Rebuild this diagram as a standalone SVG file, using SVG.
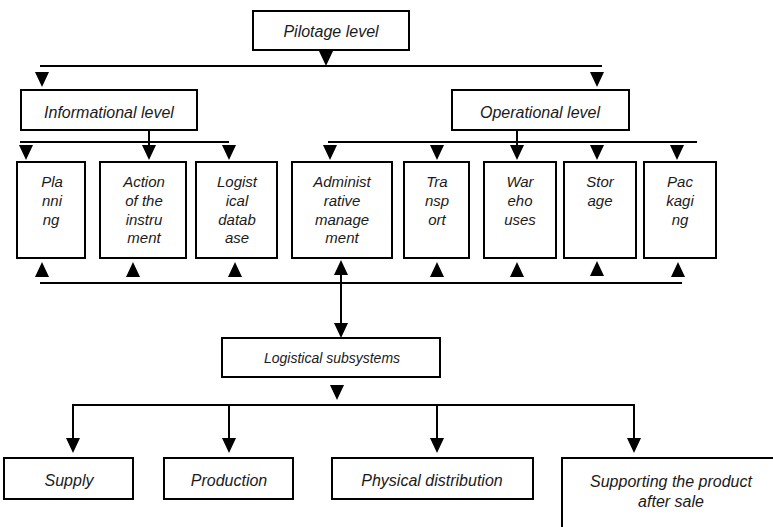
<svg xmlns="http://www.w3.org/2000/svg" xmlns:xlink="http://www.w3.org/1999/xlink" width="773" height="527" viewBox="0 0 773 527">
<style>
.box{fill:#fff;stroke:#000;stroke-width:2}
.ln{stroke:#000;stroke-width:2;fill:none}
.t{font-family:"Liberation Sans",Arial,sans-serif;font-style:italic;fill:#1a1a1a;text-anchor:middle}
.t16{font-size:16px}
.t15{font-size:15px}
.t14{font-size:14px}
</style>
<defs>
<path id="dn" d="M0,0 L-7,-15 L7,-15 Z" fill="#000"/>
<path id="up" d="M0,0 L-7,15 L7,15 Z" fill="#000"/>
</defs>
<rect width="773" height="527" fill="#fff"/>
<g id="connectors">
<line class="ln" x1="40" y1="66" x2="602" y2="66"/>
<use xlink:href="#dn" x="326" y="66"/>
<use xlink:href="#dn" x="42" y="87"/>
<use xlink:href="#dn" x="597" y="87"/>
<line class="ln" x1="20" y1="142" x2="229" y2="142"/>
<line class="ln" x1="149" y1="130" x2="149" y2="146"/>
<use xlink:href="#dn" x="26" y="160"/>
<use xlink:href="#dn" x="149" y="160"/>
<use xlink:href="#dn" x="229" y="160"/>
<line class="ln" x1="328" y1="142" x2="697" y2="142"/>
<line class="ln" x1="517" y1="130" x2="517" y2="146"/>
<use xlink:href="#dn" x="330" y="160"/>
<use xlink:href="#dn" x="437" y="160"/>
<use xlink:href="#dn" x="517" y="160"/>
<use xlink:href="#dn" x="597" y="160"/>
<use xlink:href="#dn" x="677" y="160"/>
<line class="ln" x1="40" y1="283" x2="682" y2="283"/>
<use xlink:href="#up" x="42" y="262"/>
<use xlink:href="#up" x="133" y="262"/>
<use xlink:href="#up" x="235" y="262"/>
<use xlink:href="#up" x="341" y="260"/>
<use xlink:href="#up" x="437" y="262"/>
<use xlink:href="#up" x="517" y="262"/>
<use xlink:href="#up" x="597" y="261"/>
<use xlink:href="#up" x="678" y="262"/>
<line class="ln" x1="341" y1="272" x2="341" y2="326"/>
<use xlink:href="#dn" x="341" y="338"/>
<use xlink:href="#dn" x="337" y="400"/>
<polyline class="ln" points="73,441 73,405 634,405 634,441"/>
<line class="ln" x1="229" y1="405" x2="229" y2="441"/>
<line class="ln" x1="437" y1="405" x2="437" y2="441"/>
<use xlink:href="#dn" x="73" y="453"/>
<use xlink:href="#dn" x="229" y="453"/>
<use xlink:href="#dn" x="437" y="453"/>
<use xlink:href="#dn" x="634" y="453"/>
</g>
<g id="pilotage"><rect class="box" x="253" y="11" width="156" height="39"/><text class="t t16" x="331" y="37">Pilotage level</text></g>
<g id="informational"><rect class="box" x="21" y="90" width="176" height="40"/><text class="t t16" x="109" y="118">Informational level</text></g>
<g id="operational"><rect class="box" x="452" y="90" width="177" height="40"/><text class="t t16" x="540" y="118">Operational level</text></g>
<g id="planning"><rect class="box" x="17" y="162" width="68" height="96"/><text class="t t15" x="52"><tspan x="52" y="187">Pla</tspan><tspan x="52" y="206">nni</tspan><tspan x="51" y="225">ng</tspan></text></g>
<g id="action"><rect class="box" x="100" y="162" width="86" height="96"/><text class="t t15" x="144"><tspan x="144" y="187">Action</tspan><tspan x="144" y="206">of the</tspan><tspan x="144" y="225">instru</tspan><tspan x="144" y="243">ment</tspan></text></g>
<g id="database"><rect class="box" x="196" y="162" width="81" height="96"/><text class="t t15" x="237"><tspan x="237" y="187">Logist</tspan><tspan x="237" y="206">ical</tspan><tspan x="237" y="225">datab</tspan><tspan x="237" y="243">ase</tspan></text></g>
<g id="administrative"><rect class="box" x="292" y="162" width="100" height="96"/><text class="t t15" x="342"><tspan x="342" y="187">Administ</tspan><tspan x="342" y="206">rative</tspan><tspan x="342" y="225">manage</tspan><tspan x="342" y="243">ment</tspan></text></g>
<g id="transport"><rect class="box" x="404" y="162" width="65" height="96"/><text class="t t15" x="437"><tspan x="437" y="187">Tra</tspan><tspan x="437" y="206">nsp</tspan><tspan x="437" y="225">ort</tspan></text></g>
<g id="warehouses"><rect class="box" x="484" y="162" width="72" height="96"/><text class="t t15" x="520"><tspan x="520" y="187">War</tspan><tspan x="520" y="206">eho</tspan><tspan x="520" y="225">uses</tspan></text></g>
<g id="storage"><rect class="box" x="564" y="162" width="72" height="96"/><text class="t t15" x="600"><tspan x="600" y="187">Stor</tspan><tspan x="600" y="206">age</tspan></text></g>
<g id="packaging"><rect class="box" x="644" y="162" width="72" height="96"/><text class="t t15" x="680"><tspan x="680" y="187">Pac</tspan><tspan x="680" y="206">kagi</tspan><tspan x="680" y="225">ng</tspan></text></g>
<g id="subsystems"><rect class="box" x="222" y="338" width="218" height="39"/><text class="t t14" x="332" y="363">Logistical subsystems</text></g>
<g id="supply"><rect class="box" x="4" y="458" width="129" height="41"/><text class="t t16" x="69" y="486">Supply</text></g>
<g id="production"><rect class="box" x="164" y="458" width="129" height="41"/><text class="t t16" x="229" y="486">Production</text></g>
<g id="physical"><rect class="box" x="332" y="458" width="201" height="41"/><text class="t t16" x="432" y="486">Physical distribution</text></g>
<g id="supporting"><rect class="box" x="562" y="458" width="230" height="90"/><text class="t t16" x="671"><tspan x="671" y="487">Supporting the product</tspan><tspan x="671" y="507">after sale</tspan></text></g>
</svg>
